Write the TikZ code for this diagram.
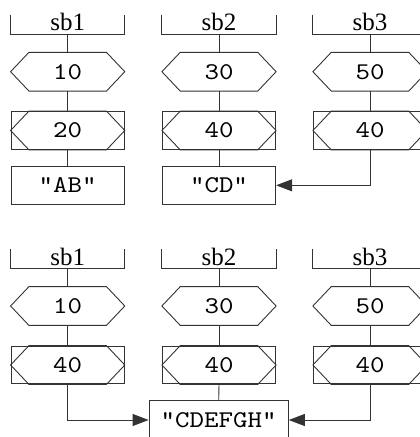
\documentclass[tikz,border=0pt]{standalone}
\usepackage{fontspec}
\setmainfont{Liberation Serif}
\setmonofont{lmmono10-regular.otf}[FakeStretch=1.15]
\usetikzlibrary{arrows.meta}
\begin{document}
\begin{tikzpicture}[x=1pt,y=-1pt,
  line width=0.9pt, draw=black!80,
  cellbase/.style={rectangle, inner sep=0pt, minimum width=113.3pt, minimum height=37.8pt,
    font=\fontsize{24}{24}\selectfont\ttfamily},
  hexcell/.style={cellbase},
  boxcell/.style={cellbase, draw},
  resbox/.style={cellbase, draw},
  head/.style={rectangle, inner sep=0pt, minimum width=113.3pt, text height=15.7pt, text depth=3.3pt,
    font=\fontsize{25}{25}\selectfont},
  arr/.style={-{Triangle[length=16pt,width=12pt]}}
]
\useasboundingbox (0,0) rectangle (420,437);
\clip (0,0) rectangle (420,437);

% column centres
\def\ca{67.7}\def\cb{219}\def\cc{370}

% ---------- upper group ----------
\node[head] (ta) at (\ca,24.5) {sb1};
\node[head] (tb) at (\cb,24.5) {sb2};
\node[head] (tc) at (\cc,24.5) {sb3};
\node[hexcell] (ha) at (\ca,71.7) {10};
\node[hexcell] (hb) at (\cb,71.7) {30};
\node[hexcell] (hc) at (\cc,71.7) {50};
\node[boxcell] (ba) at (\ca,130.5) {20};
\node[boxcell] (bb) at (\cb,130.5) {40};
\node[boxcell] (bc) at (\cc,130.5) {40};
\node[resbox] (ra) at (\ca,185.3) {"AB"};
\node[resbox] (rb) at (\cb,185.3) {"CD"};

% ---------- lower group ----------
\node[head] (Ta) at (\ca,258.8) {sb1};
\node[head] (Tb) at (\cb,258.8) {sb2};
\node[head] (Tc) at (\cc,258.8) {sb3};
\node[hexcell] (Ha) at (\ca,306) {10};
\node[hexcell] (Hb) at (\cb,306) {30};
\node[hexcell] (Hc) at (\cc,306) {50};
\node[boxcell] (Ba) at (\ca,365) {40};
\node[boxcell] (Bb) at (\cb,365) {40};
\node[boxcell] (Bc) at (\cc,365) {40};
\node[resbox, minimum width=139.3pt, minimum height=38.6pt] (R) at (218.7,420) {"CDEFGH"};

% open brackets under the headings
\foreach \n in {ta,tb,tc,Ta,Tb,Tc}
  \draw (\n.north west) -- (\n.south west) -- (\n.south east) -- (\n.north east);

% hexagons (plain and inside boxes)
\foreach \n in {ha,hb,hc,ba,bb,bc,Ha,Hb,Hc,Ba,Bb,Bc}
  \draw (\n.west) -- ([xshift=18.3pt]\n.north west) -- ([xshift=-18.3pt]\n.north east)
        -- (\n.east) -- ([xshift=-18.3pt]\n.south east) -- ([xshift=18.3pt]\n.south west) -- cycle;

% vertical links
\foreach \a/\b in {ta/ha,tb/hb,tc/hc,ha/ba,hb/bb,hc/bc,ba/ra,bb/rb,
                   Ta/Ha,Tb/Hb,Tc/Hc,Ha/Ba,Hb/Bb,Hc/Bc,Bb/R}
  \draw (\a.south) -- (\b.north);

% arrows into the result boxes
\draw[arr] (bc.south) |- (rb.east);
\draw[arr] (Ba.south) |- (R.west);
\draw[arr] (Bc.south) |- (R.east);
\end{tikzpicture}
\end{document}
